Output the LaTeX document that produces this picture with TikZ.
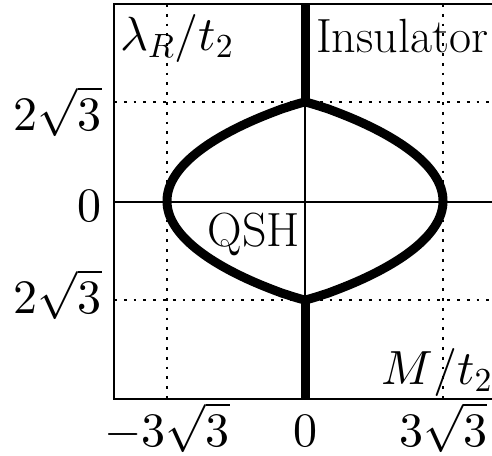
\documentclass[tikz,border=0pt]{standalone}
\usepackage{fontspec}
\DeclareFontShape{OML}{cmm}{m}{it}{<->cmmi10}{}
\DeclareFontShape{OMS}{cmsy}{m}{n}{<->cmsy10}{}
\DeclareFontShape{OMX}{cmex}{m}{n}{<->cmex10}{}
\DeclareFontShape{OT1}{cmr}{m}{n}{<->cmr10}{}
\tikzset{
  frame/.style={line width=2.5pt},
  axisline/.style={line width=2pt},
  boundary/.style={line width=9pt, line join=miter},
  gridline/.style={line width=2.8pt, dash pattern=on 2.8pt off 7pt},
  lbl/.style={inner sep=0pt, font=\fontsize{48}{54}\selectfont}
}
\begin{document}
\begin{tikzpicture}[x=1pt,y=-1pt]
\useasboundingbox (0,0) rectangle (492,455);
\begin{scope}
\clip (0,0) rectangle (492,455);
% dotted grid
\coordinate (gl) at (114,102);
\coordinate (gr) at (492,102);
\coordinate (hl) at (114,300);
\coordinate (hr) at (492,300);
\coordinate (vlt) at (167,4);
\coordinate (vlb) at (167,399);
\coordinate (vrt) at (443,4);
\coordinate (vrb) at (443,399);
\draw[gridline] (gl) -- (gr);
\draw[gridline] (hl) -- (hr);
\draw[gridline] (vlt) -- (vlb);
\draw[gridline] (vrt) -- (vrb);
% axes
\coordinate (xl) at (114,202);
\coordinate (xr) at (492,202);
\coordinate (top) at (305,102);
\coordinate (bot) at (305,300);
\coordinate (ytop) at (305,4);
\coordinate (ybot) at (305,399);
\draw[axisline] (xl) -- (xr);
\draw[axisline] (top) -- (bot);
\draw[boundary] (ytop) -- (top);
\draw[boundary] (bot) -- (ybot);
% phase boundary
\draw[boundary] (top)
  -- plot[domain=0.99:-0.99, samples=99, variable=\t]
     ({305+138*pow(max(1-\t*\t,0.0001),0.9)}, {201-99*\t})
  -- (bot)
  -- plot[domain=-0.99:0.99, samples=99, variable=\t]
     ({305-138*pow(max(1-\t*\t,0.0001),0.9)}, {201-99*\t})
  -- cycle;
% frame
\draw[frame] (500,4) -- (114,4) -- (114,399) -- (500,399);
\end{scope}
% labels
\node[lbl, anchor=base west] (ylab) at (120,50) {$\lambda_R/t_2$};
\node[lbl, anchor=base west] (ins) at (316,52) {Insulator};
\node[lbl, anchor=base east] (qsh) at (300,246) {QSH};
\node[lbl, anchor=base east] (xlab) at (492,384) {$M/t_2$};
\node[lbl, anchor=base east] (yt) at (102,130) {$2\sqrt{3}$};
\node[lbl, anchor=base east] (y0) at (102,221) {$0$};
\node[lbl, anchor=base east] (yb) at (102,313) {$2\sqrt{3}$};
\node[lbl, anchor=base] (xm) at (167,446) {$-3\sqrt{3}$};
\node[lbl, anchor=base] (x0) at (305,446) {$0$};
\node[lbl, anchor=base] (xp) at (443,446) {$3\sqrt{3}$};
\end{tikzpicture}
\end{document}
